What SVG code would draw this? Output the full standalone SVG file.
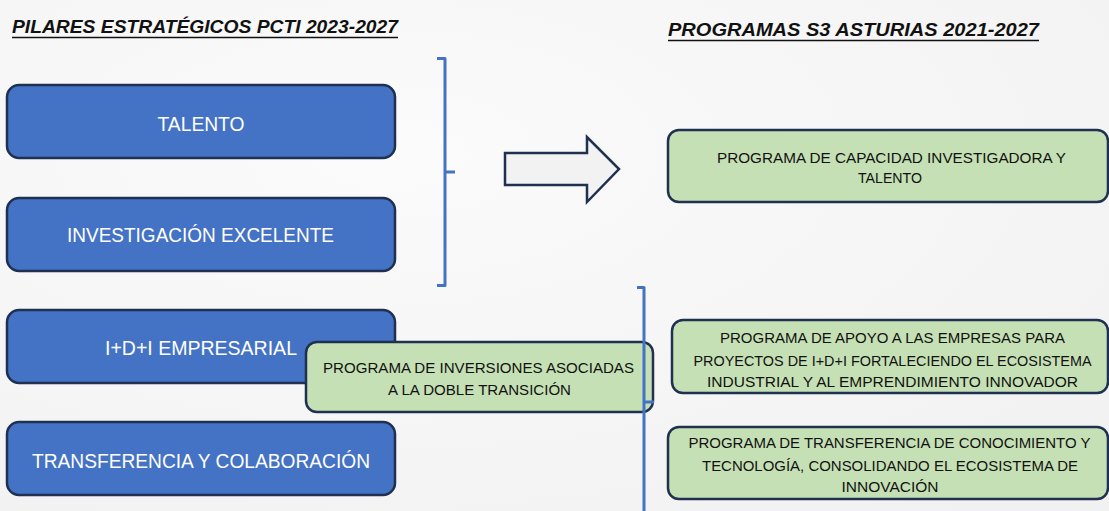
<svg xmlns="http://www.w3.org/2000/svg" width="1109" height="511" viewBox="0 0 1109 511">
<defs>
<radialGradient id="bg" cx="0.35" cy="0.3" r="0.9">
<stop offset="0" stop-color="#fbfbfb"/>
<stop offset="1" stop-color="#f1f1f1"/>
</radialGradient>
</defs>
<style>
.blue{fill:#4472c4;stroke:#1f3050;stroke-width:2.5}
.green{fill:#c5e0b4;stroke:#1f3050;stroke-width:2.5}
.wt{font-family:"Liberation Sans",Arial,sans-serif;font-size:20px;fill:#ffffff;text-anchor:middle}
.gt{font-family:"Liberation Sans",Arial,sans-serif;font-size:15px;fill:#111111;text-anchor:middle}
.title{font-family:"Liberation Sans",Arial,sans-serif;font-size:19px;font-weight:bold;font-style:italic;fill:#111111}
.ul{stroke:#111111;stroke-width:1.6}
.brk{fill:none;stroke:#4472c4;stroke-width:3;stroke-linejoin:round}
</style>
<rect x="0" y="0" width="1109" height="511" fill="url(#bg)"/>

<g id="titles">
<text class="title" x="12" y="33" textLength="386" lengthAdjust="spacingAndGlyphs">PILARES ESTRATÉGICOS PCTI 2023-2027</text>
<line class="ul" x1="12" y1="37.5" x2="398" y2="37.5"/>
<text class="title" x="668" y="36" textLength="371" lengthAdjust="spacingAndGlyphs">PROGRAMAS S3 ASTURIAS 2021-2027</text>
<line class="ul" x1="668" y1="40.5" x2="1039" y2="40.5"/>
</g>

<g id="talento">
<rect class="blue" x="7" y="85" width="388" height="73" rx="12"/>
<text class="wt" x="201" y="131" textLength="87" lengthAdjust="spacingAndGlyphs">TALENTO</text>
</g>
<g id="investigacion">
<rect class="blue" x="7" y="198" width="388" height="73" rx="12"/>
<text class="wt" x="200.5" y="242" textLength="267" lengthAdjust="spacingAndGlyphs">INVESTIGACIÓN EXCELENTE</text>
</g>
<g id="idi">
<rect class="blue" x="7" y="310" width="388" height="73" rx="12"/>
<text class="wt" x="201" y="355" textLength="192" lengthAdjust="spacingAndGlyphs">I+D+I EMPRESARIAL</text>
</g>
<g id="transferencia">
<rect class="blue" x="7" y="422" width="388" height="73" rx="12"/>
<text class="wt" x="201" y="468" textLength="338" lengthAdjust="spacingAndGlyphs">TRANSFERENCIA Y COLABORACIÓN</text>
</g>

<g id="prog-inversiones">
<rect class="green" x="306" y="342" width="347" height="70" rx="11"/>
<text class="gt" x="478.5" y="373" textLength="311" lengthAdjust="spacingAndGlyphs">PROGRAMA DE INVERSIONES ASOCIADAS</text>
<text class="gt" x="479.5" y="395" textLength="183" lengthAdjust="spacingAndGlyphs">A LA DOBLE TRANSICIÓN</text>
</g>

<g id="prog-capacidad">
<rect class="green" x="668" y="130" width="440" height="72" rx="11"/>
<text class="gt" x="891.5" y="163" textLength="349" lengthAdjust="spacingAndGlyphs">PROGRAMA DE CAPACIDAD INVESTIGADORA Y</text>
<text class="gt" x="890" y="183" textLength="64" lengthAdjust="spacingAndGlyphs">TALENTO</text>
</g>
<g id="prog-empresas">
<rect class="green" x="672" y="320" width="436" height="73" rx="11"/>
<text class="gt" x="892.5" y="343" textLength="345" lengthAdjust="spacingAndGlyphs">PROGRAMA DE APOYO A LAS EMPRESAS PARA</text>
<text class="gt" x="892.5" y="366" textLength="398" lengthAdjust="spacingAndGlyphs">PROYECTOS DE I+D+I FORTALECIENDO EL ECOSISTEMA</text>
<text class="gt" x="892.5" y="387" textLength="371" lengthAdjust="spacingAndGlyphs">INDUSTRIAL Y AL EMPRENDIMIENTO INNOVADOR</text>
</g>
<g id="prog-transferencia">
<rect class="green" x="668" y="427" width="440" height="72" rx="11"/>
<text class="gt" x="889.5" y="448" textLength="402" lengthAdjust="spacingAndGlyphs">PROGRAMA DE TRANSFERENCIA DE CONOCIMIENTO Y</text>
<text class="gt" x="890" y="471" textLength="376" lengthAdjust="spacingAndGlyphs">TECNOLOGÍA, CONSOLIDANDO EL ECOSISTEMA DE</text>
<text class="gt" x="890" y="492" textLength="97" lengthAdjust="spacingAndGlyphs">INNOVACIÓN</text>
</g>

<g id="connectors">
<path class="brk" d="M437 58.5 H445 V285.5 H437 M445 172 H455"/>
<path d="M505 153 H587 V137 L619 169 L587 202 V185 H505 Z" fill="#f2f2f2" stroke="#1f3050" stroke-width="2.5" stroke-linejoin="miter"/>
<path class="brk" d="M637 287.5 H644 V515 M644 402 H654"/>
</g>
</svg>
